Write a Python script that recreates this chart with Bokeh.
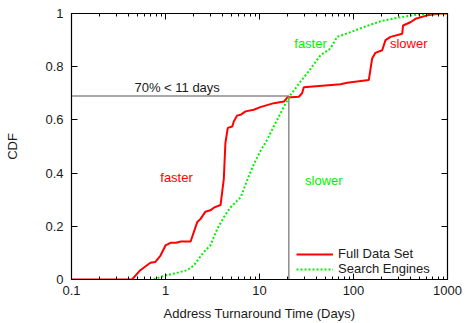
from bokeh.plotting import figure
from bokeh.models import (FixedTicker, LinearAxis, LogAxis, Label, Legend,
                          LegendItem, Range1d)
from bokeh.embed import file_html
from bokeh.resources import INLINE

# ---- data ----
full_days = [0.1, 0.44, 0.54, 0.69, 0.78, 0.885, 1.0, 1.13, 1.3, 1.45,
             1.85, 2.17, 2.36, 2.66, 3.0, 3.27, 3.85, 4.17, 4.34, 4.6,
             5.13, 5.33, 5.76, 6.3, 7.1, 8.7, 10.2, 14.2, 18.2, 19.7,
             26.2, 28.4, 29.6, 72.8, 85.7, 145.5, 158, 171, 202, 219,
             248, 330, 337, 403, 457, 608, 843, 1000]
full_cdf = [0, 0, 0.035, 0.063, 0.066, 0.09, 0.128, 0.138, 0.138, 0.143,
            0.143, 0.215, 0.228, 0.255, 0.26, 0.27, 0.28, 0.377, 0.514, 0.57,
            0.575, 0.594, 0.616, 0.619, 0.632, 0.638, 0.648, 0.663, 0.669, 0.684,
            0.687, 0.70, 0.723, 0.734, 0.74, 0.75, 0.831, 0.852, 0.862, 0.90,
            0.912, 0.924, 0.955, 0.967, 0.98, 0.993, 1.0, 1.0]

se_days = [0.75, 0.96, 1.22, 1.7, 2.0, 2.55, 3.0, 3.55, 4.17, 4.9,
           6.3, 7.7, 8.7, 10.2, 12.1, 14.2, 18.2, 21.4, 27.3, 32.1,
           44.6, 56.9, 67, 93, 129, 194, 292, 476, 661, 1000]
se_cdf = [0, 0.014, 0.022, 0.035, 0.053, 0.103, 0.128, 0.19, 0.234, 0.271,
          0.309, 0.389, 0.433, 0.482, 0.526, 0.576, 0.65, 0.694, 0.744, 0.775,
          0.843, 0.868, 0.912, 0.93, 0.949, 0.971, 0.984, 0.996, 1.0, 1.0]

ref_x = 20.5      # vertical marker (days)
ref_y = 0.69      # horizontal marker (CDF)

x_ticks = [0.1, 1, 10, 100, 1000]
x_tick_labels = ["0.1", "1", "10", "100", "1000"]
y_ticks = [0, 0.2, 0.4, 0.6, 0.8, 1.0]
y_tick_labels = ["0", "0.2", "0.4", "0.6", "0.8", "1"]
minor_x = [m * d for d in [0.1, 1, 10, 100] for m in range(2, 10)]

FONT = "Liberation Sans"
FS = "13px"
RED = "#ff0000"
GREEN = "#00f000"

p = figure(width=465, height=323, x_axis_type="log",
           x_range=Range1d(0.1, 1000), y_range=Range1d(0, 1),
           output_backend="svg", toolbar_location=None,
           min_border_left=71, min_border_right=18,
           min_border_top=13, min_border_bottom=42)
p.xgrid.visible = False
p.ygrid.visible = False
p.outline_line_color = "black"
p.outline_line_width = 1.2
p.background_fill_color = "white"
p.border_fill_color = "white"

xt = FixedTicker(ticks=x_ticks, minor_ticks=minor_x)
yt = FixedTicker(ticks=y_ticks, minor_ticks=[])

def style(ax):
    ax.major_tick_in = 6
    ax.major_tick_out = 0
    ax.minor_tick_in = 3
    ax.minor_tick_out = 0
    ax.axis_line_color = "black"
    ax.major_tick_line_color = "black"
    ax.minor_tick_line_color = "black"
    ax.major_label_text_font = FONT
    ax.major_label_text_font_size = FS
    ax.major_label_text_color = "#1a1a1a"
    ax.axis_label_text_font = FONT
    ax.axis_label_text_font_size = FS
    ax.axis_label_text_font_style = "normal"
    ax.axis_label_text_color = "#1a1a1a"

xa = p.xaxis[0]
xa.ticker = xt
xa.major_label_overrides = dict(zip(x_ticks, x_tick_labels))
xa.axis_label = "Address Turnaround Time (Days)"
style(xa)
xa.major_label_standoff = 6
xa.axis_label_standoff = 8

ya = p.yaxis[0]
ya.ticker = yt
ya.major_label_overrides = dict(zip(y_ticks, y_tick_labels))
ya.axis_label = "CDF"
style(ya)
ya.major_label_standoff = 8
ya.axis_label_standoff = 22

top = LogAxis(ticker=xt)
style(top)
top.major_label_text_font_size = "1px"
top.major_label_text_color = None
top.major_label_standoff = 0
p.add_layout(top, "above")
right = LinearAxis(ticker=yt)
style(right)
right.major_label_text_font_size = "1px"
right.major_label_text_color = None
right.major_label_standoff = 0
p.add_layout(right, "right")

# reference lines
p.line([0.1, ref_x, ref_x], [ref_y, ref_y, 0], line_color="#8c8c8c", line_width=1.5)

r_full = p.line(full_days, full_cdf, line_color=RED, line_width=2)
r_se = p.line(se_days, se_cdf, line_color=GREEN, line_width=2, line_dash="2 2")

legend = Legend(items=[LegendItem(label="Full Data Set", renderers=[r_full]),
                       LegendItem(label="Search Engines", renderers=[r_se])],
                location=(222, 0))
legend.label_text_font = FONT
legend.label_text_font_size = FS
legend.label_text_color = "#1a1a1a"
legend.background_fill_alpha = 0
legend.border_line_alpha = 0
legend.glyph_width = 37
legend.glyph_height = 12
legend.label_height = 12
legend.spacing = 0
legend.padding = 3
legend.margin = 0
p.add_layout(legend)

def lab(x, y, t, c):
    p.add_layout(Label(x=x, y=y, text=t, text_color=c, text_font=FONT,
                       text_font_size=FS, text_align="center",
                       text_baseline="middle"))

lab(1.33, 0.72, "70% < 11 days", "#1a1a1a")
lab(1.31, 0.383, "faster", RED)
lab(34.9, 0.889, "faster", GREEN)
lab(387, 0.887, "slower", RED)
lab(48.3, 0.374, "slower", GREEN)

open("out.html", "w").write(file_html(p, INLINE))
